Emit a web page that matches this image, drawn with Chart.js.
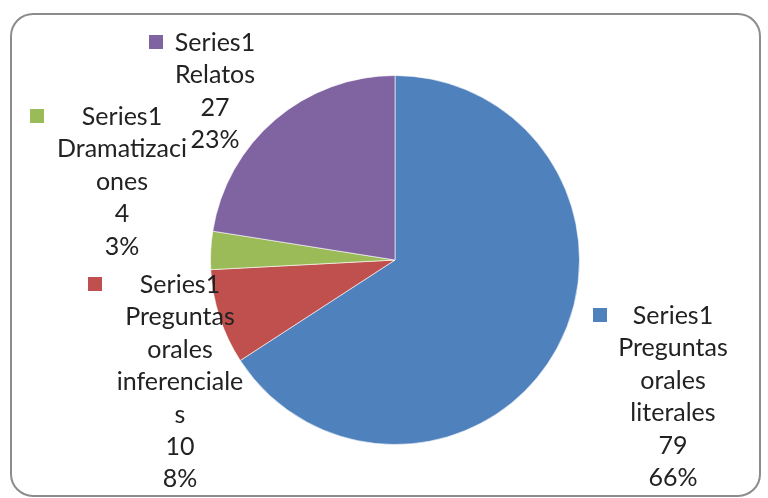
<!DOCTYPE html>
<html>
<head>
<meta charset="utf-8">
<script src="https://cdn.jsdelivr.net/npm/chart.js@4/dist/chart.umd.min.js"></script>
<style>
  html, body { margin: 0; padding: 0; background: #fff; }
  #wrap { width: 768px; height: 498px; position: relative; }
</style>
</head>
<body>
<div id="wrap"><canvas id="c" width="768" height="498"></canvas></div>
<script>
// ---- data ----
const seriesName = "Series1";
const categories = ["Preguntas orales literales", "Preguntas orales inferenciales", "Dramatizaciones", "Relatos"];
const values = [79, 10, 4, 27];
const colors = ["#4F81BD", "#C0504D", "#9BBB59", "#8064A2"];
// wrapped category text as shown in the chart
const nameLines = [
  ["Preguntas", "orales", "literales"],
  ["Preguntas", "orales", "inferenciale", "s"],
  ["Dramatizaci", "ones"],
  ["Relatos"]
];
// label layout: text centre x, first line y, marker x, marker y
const labelPos = [
  { cx: 673, y: 316, mx: 593, my: 308 },
  { cx: 180, y: 285, mx: 88,  my: 277 },
  { cx: 122, y: 117, mx: 30,  my: 109 },
  { cx: 215, y: 43,  mx: 149, my: 35 }
];

const FONT = '25px Lato, "Open Sans", sans-serif';
const LINE_H = 32.4;

const frame = {
  id: 'frame',
  beforeDraw(chart) {
    const ctx = chart.ctx;
    ctx.save();
    ctx.fillStyle = '#fff';
    ctx.fillRect(0, 0, chart.width, chart.height);
    ctx.strokeStyle = '#8c8c8c';
    ctx.lineWidth = 2;
    ctx.beginPath();
    ctx.roundRect(11, 14, 749, 482, 22);
    ctx.stroke();
    ctx.restore();
  }
};

const labels = {
  id: 'labels',
  afterDraw(chart) {
    const ctx = chart.ctx;
    const total = values.reduce((a, b) => a + b, 0);
    ctx.save();
    ctx.font = FONT;
    ctx.textAlign = 'center';
    ctx.textBaseline = 'middle';
    values.forEach((v, i) => {
      const p = labelPos[i];
      ctx.fillStyle = colors[i];
      ctx.fillRect(p.mx, p.my, 14, 14);
      const lines = [seriesName, ...nameLines[i], String(v), Math.round(v / total * 100) + '%'];
      ctx.fillStyle = '#222';
      lines.forEach((t, k) => ctx.fillText(t, p.cx, p.y + k * LINE_H));
    });
    ctx.restore();
  }
};

new Chart(document.getElementById('c'), {
  type: 'pie',
  data: {
    labels: categories,
    datasets: [{
      label: seriesName,
      data: values,
      backgroundColor: colors,
      borderColor: 'rgba(255,255,255,0.6)',
      borderWidth: 1
    }]
  },
  options: {
    responsive: false,
    animation: false,
    layout: { padding: { left: 210, right: 188, top: 75, bottom: 53 } },
    plugins: { legend: { display: false }, tooltip: { enabled: false } }
  },
  plugins: [frame, labels]
});
</script>
</body>
</html>
